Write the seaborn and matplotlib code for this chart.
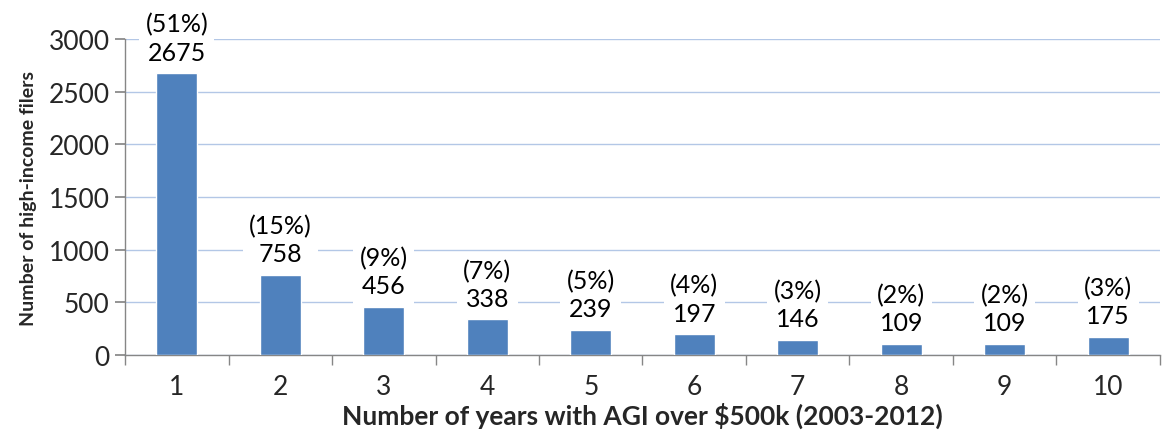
import matplotlib
matplotlib.use("Agg")
import matplotlib.pyplot as plt
import seaborn as sns
import pandas as pd

years = ["1", "2", "3", "4", "5", "6", "7", "8", "9", "10"]
counts = [2675, 758, 456, 338, 239, 197, 146, 109, 109, 175]
shares = ["51%", "15%", "9%", "7%", "5%", "4%", "3%", "2%", "2%", "3%"]
y_ticks = [0, 500, 1000, 1500, 2000, 2500, 3000]

sns.set_theme(style="white")
plt.rcParams['font.family'] = ['Lato', 'DejaVu Sans']

df = pd.DataFrame({"years": years, "count": counts})

fig = plt.figure(figsize=(11.65, 4.35), dpi=100)
ax = fig.add_axes([0.1073, 0.1816, 0.8884, 0.7264])

sns.barplot(data=df, x="years", y="count", color="#4F81BD", saturation=1,
            width=0.4, ax=ax, zorder=3)

ax.set_ylim(0, 3000)
ax.set_yticks(y_ticks)
ax.set_xlim(-0.5, len(years) - 0.5)
ax.yaxis.grid(True, color="#B3C7E6", linewidth=1, zorder=0)
ax.set_axisbelow(True)

for s in ["top", "right"]:
    ax.spines[s].set_visible(False)
for s in ["left", "bottom"]:
    ax.spines[s].set_color("#868686")
    ax.spines[s].set_linewidth(1)

ax.tick_params(axis="y", which="both", left=True, length=7, color="#868686",
               labelsize=19, pad=4)
ax.set_xticks(range(len(years)))
ax.set_xticklabels(years, fontsize=19)
ax.tick_params(axis="x", bottom=False, pad=8)
ax.set_xticks([i + 0.5 for i in range(-1, len(years))], minor=True)
ax.tick_params(axis="x", which="minor", bottom=True, length=7, color="#868686")

for i, (c, s) in enumerate(zip(counts, shares)):
    ax.annotate(f"({s})\n{c}", xy=(i, c), xytext=(0, 7),
                textcoords="offset points", ha="center", va="bottom",
                fontsize=18, linespacing=1.25, color="#000000", zorder=5,
                bbox=dict(boxstyle="square,pad=0.25", fc="white", ec="none"))

ax.set_xlabel("Number of years with AGI over $500k (2003-2012)",
              fontsize=19, fontweight="bold", labelpad=2)
ax.set_ylabel("Number of high-income filers", fontsize=14,
              fontweight="bold", labelpad=8)

fig.savefig("out.png", dpi=100)
